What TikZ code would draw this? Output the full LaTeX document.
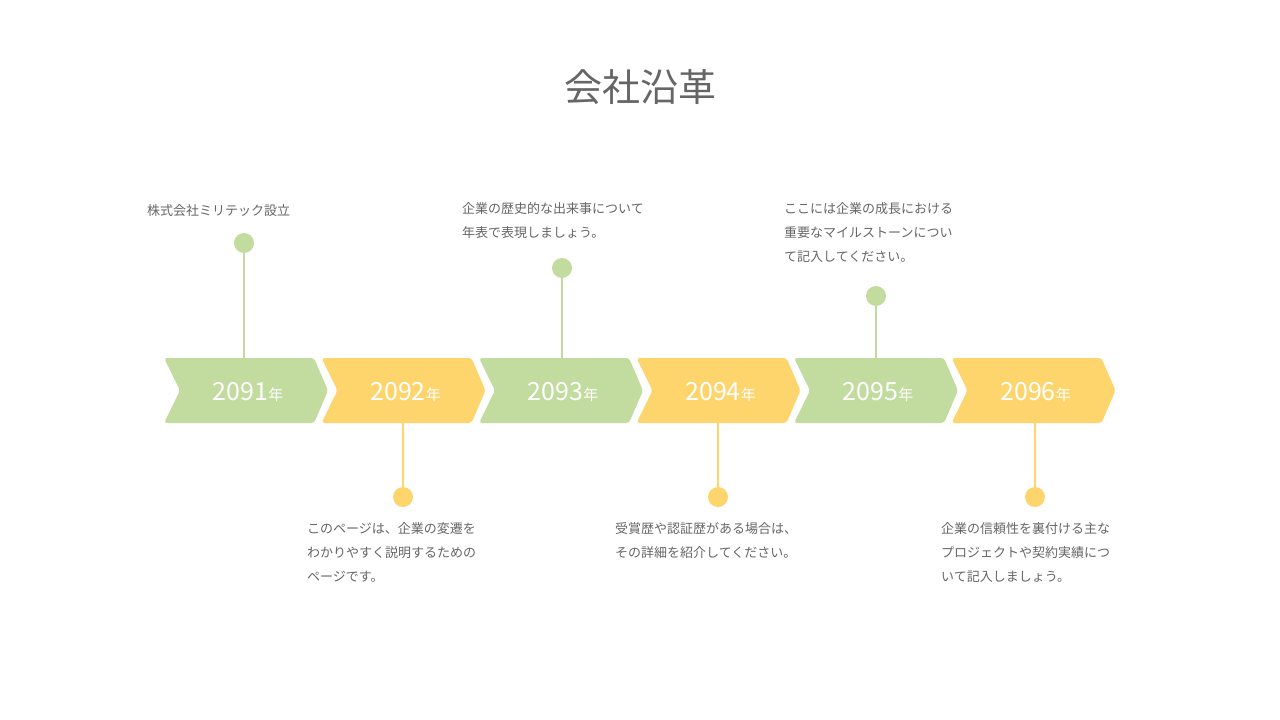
\documentclass[tikz,border=0pt]{standalone}
\usepackage{fontspec}
\newfontfamily\cjk{Noto Sans CJK JP}
\definecolor{gr}{HTML}{C2DB9E}
\definecolor{ye}{HTML}{FED56C}
\definecolor{tx}{HTML}{666666}
\begin{document}
\begin{tikzpicture}[x=1pt,y=-1pt,
  lbl/.style={font=\cjk\fontsize{13}{24}\selectfont,text=tx,align=left,anchor=north west,inner sep=0},
  yr/.style={font=\cjk\fontsize{25}{25}\selectfont,text=white},
  dot/.style={circle,minimum size=20,inner sep=0},
  stem/.style={line width=2pt}]
\useasboundingbox[fill=white] (0,0) rectangle (1280,720);
\node[font=\cjk\fontsize{38}{38}\selectfont,text=tx] (title) at (640,87) {会社沿革};
\foreach \i/\c in {0/gr,1/ye,2/gr,3/ye,4/gr,5/ye}{
  \pgfmathsetmacro\x{164+157.5*\i}
  \fill[\c,rounded corners=3pt] (\x,358) -- (\x+150,358) -- (\x+164,390.5) -- (\x+150,423) -- (\x,423) -- (\x+16,390.5) -- cycle;
  \pgfmathtruncatemacro\y{2091+\i}
  \node[yr] (y\i) at (\x+84,392) {\y{\fontsize{15}{15}\selectfont 年}};
}
% upper pins
\foreach \n/\x/\y/\c in {a/244/243/gr,b/562/268/gr,c/876/296/gr}{
  \node[dot,fill=\c] (\n) at (\x,\y) {};
  \coordinate (\n s) at (\x,358);
  \draw[\c,stem] (\n) -- (\n s);
}
\foreach \n/\x/\c in {d/403/ye,e/718/ye,f/1035/ye}{
  \node[dot,fill=\c] (\n) at (\x,497) {};
  \coordinate (\n s) at (\x,423);
  \draw[\c,stem] (\n s) -- (\n);
}
\node[lbl] (ta) at (147,204) {株式会社ミリテック設立};
\node[lbl] (tb) at (462,202) {企業の歴史的な出来事について\\年表で表現しましょう。};
\node[lbl] (tc) at (784,202) {ここには企業の成長における\\重要なマイルストーンについ\\て記入してください。};
\node[lbl] (td) at (307,522) {このページは、企業の変遷を\\わかりやすく説明するための\\ページです。};
\node[lbl] (te) at (615,522) {受賞歴や認証歴がある場合は、\\その詳細を紹介してください。};
\node[lbl] (tf) at (941,522) {企業の信頼性を裏付ける主な\\プロジェクトや契約実績につ\\いて記入しましょう。};
\end{tikzpicture}
\end{document}
